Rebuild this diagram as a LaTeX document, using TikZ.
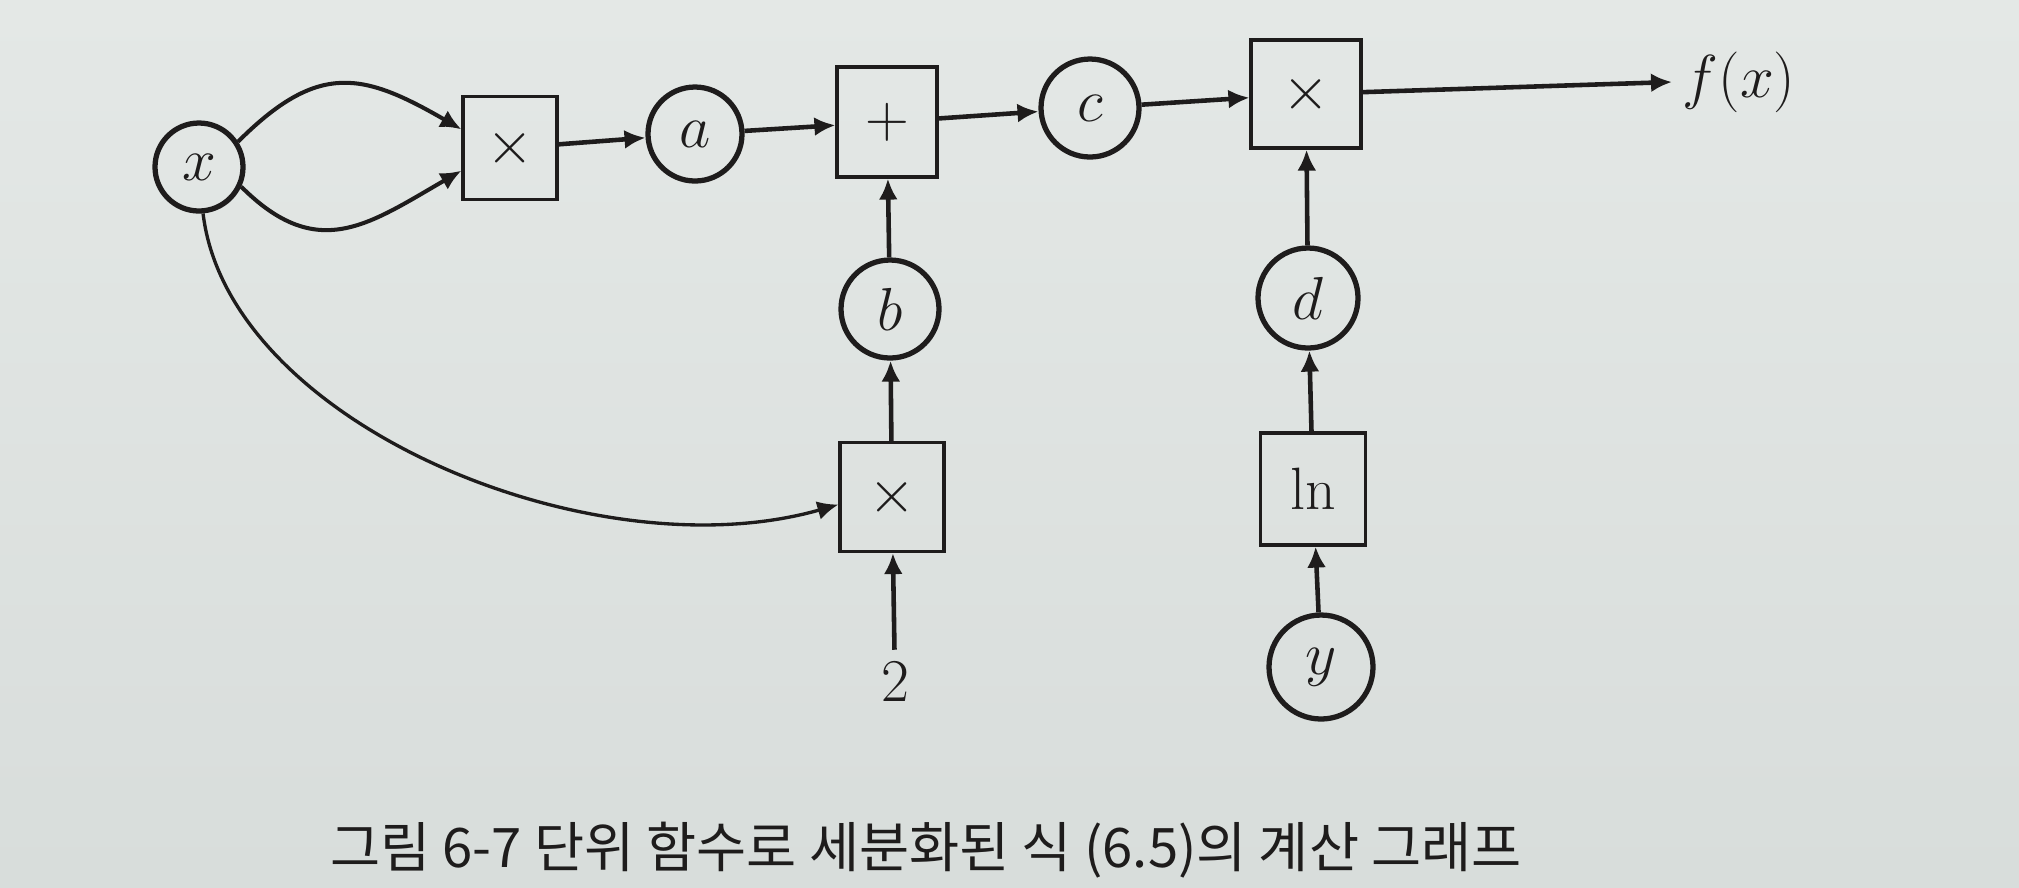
\documentclass[tikz,border=0pt]{standalone}
\usepackage{fontspec}
\newfontfamily\krfont{Noto Sans CJK KR}
\usetikzlibrary{arrows.meta,calc}
\definecolor{bgtop}{RGB}{228,232,230}
\definecolor{bgbot}{RGB}{216,221,219}
\definecolor{ink}{RGB}{30,28,28}
\begin{document}
\begin{tikzpicture}[x=0.1mm,y=0.1mm,
  var/.style={circle,draw=ink,line width=1.5pt,minimum size=9.8mm,inner sep=0pt},
  op/.style={rectangle,draw=ink,line width=0.9pt,minimum width=10.4mm,minimum height=10.9mm,inner sep=0pt},
  arr/.style={draw=ink,line width=1.3pt,-{Latex[length=2.1mm,width=1.9mm]}},
  curvarr/.style={draw=ink,line width=1.15pt,-{Latex[length=2.1mm,width=1.9mm]}},
  thinarr/.style={draw=ink,line width=0.95pt,-{Latex[length=2.1mm,width=1.9mm]}},
  every node/.style={text=ink,font=\fontsize{17}{20}\selectfont}]
\useasboundingbox (0,0) rectangle (2019,-887);
\shade[top color=bgtop,bottom color=bgbot] (0,0) rectangle (2019,-887);

\node[var,minimum size=8.8mm] (x) at (199,-167) {$x$};
\node[op,minimum width=9.4mm,minimum height=10.3mm] (m1) at (510,-148) {$\times$};
\node[var,minimum size=9.4mm] (a) at (695,-134) {$a$};
\node[op,minimum width=10mm,minimum height=11mm] (plus) at (887,-122) {$+$};
\node[var] (c) at (1090,-108) {$c$};
\node[op,minimum width=11mm,minimum height=10.8mm] (m3) at (1306,-94) {$\times$};
\node[anchor=west,inner sep=1mm] (fx) at (1672,-82) {$f(x)$};
\node[var] (b) at (890,-309) {$b$};
\node[op] (m2) at (892,-497) {$\times$};
\node[inner sep=1.2mm] (two) at (895,-682) {$2$};
\node[var,minimum size=10mm] (d) at (1308,-298) {$d$};
\node[op,minimum width=10.5mm,minimum height=11.2mm] (ln) at (1313,-489) {$\ln$};
\node[var,minimum size=10.4mm] (y) at (1321,-667) {$y$};
\node[font=\krfont\fontsize{15.5}{18}\selectfont] (cap) at (926,-850) {그림 6-7 단위 함수로 세분화된 식 (6.5)의 계산 그래프};

\draw[curvarr] (x.33) to[out=45,in=150,looseness=1.3] (m1.159);
\draw[curvarr] (x.-25) to[out=-45,in=-150,looseness=1.25] (m1.205);
\draw[arr] (m1) -- (a);
\draw[arr] (a) -- (plus);
\draw[arr] (plus) -- (c);
\draw[arr] (c) -- (m3);
\draw[arr] (m3) -- (fx.west);
\draw[thinarr] (x.-85) .. controls +(25,-210) and +(-245,-70) .. (m2.188);
\draw[arr] (two) -- (m2);
\draw[arr] (m2) -- (b);
\draw[arr] (b) -- (plus);
\draw[arr] (y) -- (ln);
\draw[arr] (ln) -- (d);
\draw[arr] (d) -- (m3);
\end{tikzpicture}
\end{document}
